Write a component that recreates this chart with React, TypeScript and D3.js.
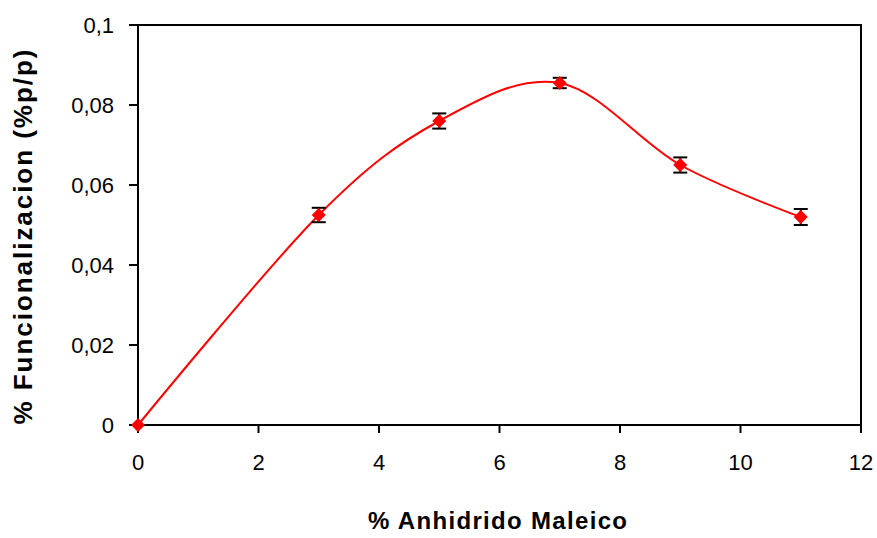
import React from "react";
import * as d3 from "d3";

const xValues = [0, 3, 5, 7, 9, 11];
const yValues = [0, 0.0525, 0.076, 0.0855, 0.065, 0.052];
const yErrors = [0, 0.0018, 0.0019, 0.0013, 0.0019, 0.002];
const xTicks = [0, 2, 4, 6, 8, 10, 12];
const yTicks = [0, 0.02, 0.04, 0.06, 0.08, 0.1];
const yTickLabels = ["0", "0,02", "0,04", "0,06", "0,08", "0,1"];

const W = 877, H = 538;
const left = 138, right = 861, top = 25, bottom = 425;

export default function App() {
  const x = d3.scaleLinear().domain([0, 12]).range([left, right]);
  const y = d3.scaleLinear().domain([0, 0.1]).range([bottom, top]);
  const pts = xValues.map((v, i) => [x(v), y(yValues[i])] as [number, number]);
  const line = d3.line().curve(d3.curveCardinal.tension(0))(pts) || "";
  const font = "'Liberation Sans', Arial, sans-serif";
  return (
    <svg width={W} height={H} style={{ position: "absolute", left: 0, top: 0 }} fontFamily={font}>
      <rect x={0} y={0} width={W} height={H} fill="#fff" />
      <rect x={left} y={top} width={right - left} height={bottom - top} fill="none" stroke="#000" strokeWidth={2} />
      {yTicks.map((t, i) => (
        <g key={"y" + i}>
          <line x1={left - 9} x2={left} y1={y(t)} y2={y(t)} stroke="#000" strokeWidth={2} />
          <text x={left - 24} y={y(t)} dy="0.36em" textAnchor="end" fontSize={22}>{yTickLabels[i]}</text>
        </g>
      ))}
      {xTicks.map((t, i) => (
        <g key={"x" + i}>
          <line x1={x(t)} x2={x(t)} y1={bottom} y2={bottom + 8} stroke="#000" strokeWidth={2} />
          <text x={x(t)} y={470} textAnchor="middle" fontSize={22}>{t}</text>
        </g>
      ))}
      <path d={line} fill="none" stroke="#ff0000" strokeWidth={2} />
      {xValues.map((v, i) => yErrors[i] > 0 && (
        <g key={"e" + i} stroke="#000" strokeWidth={2}>
          <line x1={x(v)} x2={x(v)} y1={y(yValues[i] - yErrors[i])} y2={y(yValues[i] + yErrors[i])} />
          <line x1={x(v) - 7} x2={x(v) + 7} y1={y(yValues[i] - yErrors[i])} y2={y(yValues[i] - yErrors[i])} />
          <line x1={x(v) - 7} x2={x(v) + 7} y1={y(yValues[i] + yErrors[i])} y2={y(yValues[i] + yErrors[i])} />
        </g>
      ))}
      {xValues.map((v, i) => {
        const cx = x(v), cy = y(yValues[i]);
        const r = 7;
        return <path key={"m" + i} d={`M${cx},${cy - r}L${cx + r},${cy}L${cx},${cy + r}L${cx - r},${cy}Z`} fill="#ff0000" />;
      })}
      <text x={497.5} y={529} textAnchor="middle" fontSize={24} fontWeight="bold" textLength={259} lengthAdjust="spacing">% Anhidrido Maleico</text>
      <text transform="translate(32,237) rotate(-90)" textAnchor="middle" fontSize={26} fontWeight="bold" textLength={375} lengthAdjust="spacing">% Funcionalizacion (%p/p)</text>
    </svg>
  );
}
